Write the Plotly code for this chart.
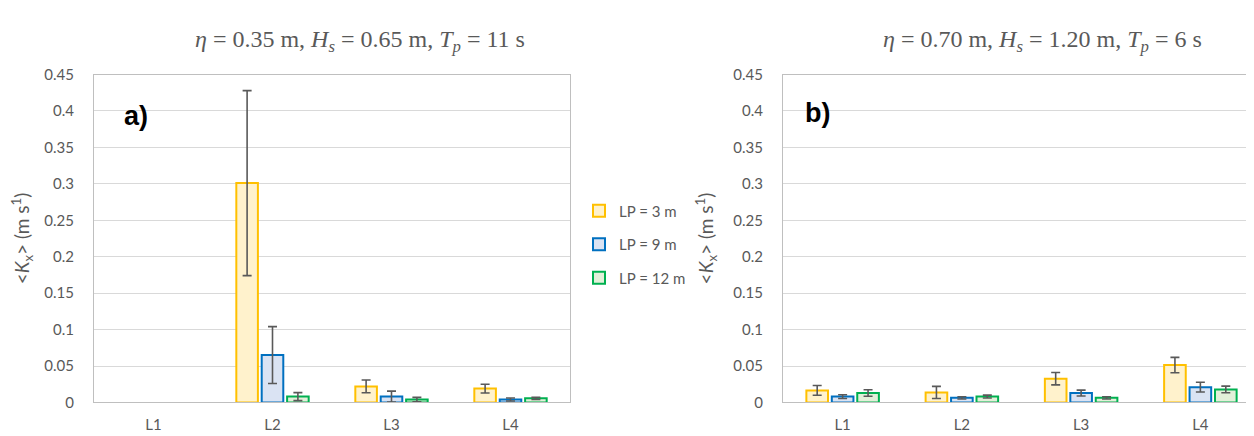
import plotly.graph_objects as go

categories = ["L1", "L2", "L3", "L4"]
series_names = ["LP = 3 m", "LP = 9 m", "LP = 12 m"]

# Panel a) eta = 0.35 m, Hs = 0.65 m, Tp = 11 s
a_lp3 = [None, 0.301, 0.022, 0.019]
a_lp3_err = [None, 0.127, 0.0088, 0.006]
a_lp9 = [None, 0.065, 0.008, 0.004]
a_lp9_err = [None, 0.039, 0.0075, 0.002]
a_lp12 = [None, 0.008, 0.004, 0.0057]
a_lp12_err = [None, 0.0055, 0.003, 0.0015]

# Panel b) eta = 0.70 m, Hs = 1.20 m, Tp = 6 s
b_lp3 = [0.0165, 0.0138, 0.0326, 0.0513]
b_lp3_err = [0.0067, 0.0083, 0.0085, 0.0105]
b_lp9 = [0.008, 0.0063, 0.0129, 0.021]
b_lp9_err = [0.0025, 0.0015, 0.004, 0.0067]
b_lp12 = [0.0129, 0.008, 0.0063, 0.0179]
b_lp12_err = [0.0045, 0.002, 0.0015, 0.0045]

y_ticks = [0, 0.05, 0.1, 0.15, 0.2, 0.25, 0.3, 0.35, 0.4, 0.45]
y_ticktext = ["0", "0.05", "0.1", "0.15", "0.2", "0.25", "0.3", "0.35", "0.4", "0.45"]

fills = ["#FFF2CC", "#DAE3F3", "#E2F0D9"]
edges = ["#FFC000", "#0070C0", "#00B050"]
GRAY = "#595959"
FONT = "Lato"

W, H = 1254, 436
fig = go.Figure()

panels = [
    ("x", "y", [a_lp3, a_lp9, a_lp12], [a_lp3_err, a_lp9_err, a_lp12_err], True),
    ("x2", "y2", [b_lp3, b_lp9, b_lp12], [b_lp3_err, b_lp9_err, b_lp12_err], False),
]
for xa, ya, vals, errs, show in panels:
    for i in range(3):
        fig.add_trace(go.Bar(
            x=categories, y=vals[i], name=series_names[i],
            xaxis=xa, yaxis=ya, showlegend=show, legendgroup=series_names[i],
            marker=dict(color=fills[i], line=dict(color=edges[i], width=2)),
            error_y=dict(type="data", array=errs[i], color=GRAY, thickness=1.6, width=4.5),
        ))

def px_x(p):
    return p / W

def px_y(p):
    return 1 - p / H

ydom = [px_y(401), px_y(59)]
axis_common = dict(showline=True, linecolor="#BFBFBF", linewidth=1, mirror=True,
                   zeroline=False)
yaxis_common = dict(range=[0, 0.45], tickvals=y_ticks, ticktext=y_ticktext,
                    showgrid=True, gridcolor="#D9D9D9", gridwidth=1,
                    tickfont=dict(family=FONT, size=15, color=GRAY),
                    ticks="", ticklabelstandoff=16, domain=ydom, **axis_common)
xaxis_common = dict(showgrid=False, tickfont=dict(family=FONT, size=15, color=GRAY),
                    ticks="", ticklabelstandoff=9, **axis_common)

ytitle = "&lt;<i>K</i><sub>x</sub>&gt; (m s<sup>1</sup>)"
ytitle_font = dict(family=FONT, size=19, color=GRAY)

fig.update_layout(
    width=W, height=H,
    margin=dict(l=0, r=0, t=0, b=0),
    paper_bgcolor="white", plot_bgcolor="white",
    barmode="group", bargap=0.36, bargroupgap=0.15,
    xaxis=dict(domain=[px_x(86), px_x(562)], anchor="y", **xaxis_common),
    xaxis2=dict(domain=[px_x(775), px_x(1252)], anchor="y2", **xaxis_common),
    yaxis=dict(anchor="x", title=dict(text=ytitle, font=ytitle_font, standoff=14), **yaxis_common),
    yaxis2=dict(anchor="x2", title=dict(text=ytitle, font=ytitle_font, standoff=14), **yaxis_common),
    legend=dict(x=px_x(571), y=px_y(184), xanchor="left", yanchor="top",
                font=dict(family=FONT, size=15, color=GRAY),
                traceorder="grouped", tracegroupgap=11, bgcolor="rgba(0,0,0,0)"),
    font=dict(family=FONT, color=GRAY),
)

title_font = dict(family="Liberation Serif", size=24, color=GRAY)
fig.add_annotation(text="<i>η</i> = 0.35 m, <i>H<sub>s</sub></i> = 0.65 m, <i>T<sub>p</sub></i> = 11 s",
                   x=px_x(352), y=px_y(24), xref="paper", yref="paper",
                   showarrow=False, font=title_font, xanchor="center", yanchor="middle")
fig.add_annotation(text="<i>η</i> = 0.70 m, <i>H<sub>s</sub></i> = 1.20 m, <i>T<sub>p</sub></i> = 6 s",
                   x=px_x(1034), y=px_y(24), xref="paper", yref="paper",
                   showarrow=False, font=title_font, xanchor="center", yanchor="middle")

label_font = dict(family="Liberation Sans", size=27, color="black")
fig.add_annotation(text="<b>a)</b>", x=px_x(114), y=px_y(102), xref="paper", yref="paper",
                   showarrow=False, font=label_font, xanchor="left", yanchor="middle")
fig.add_annotation(text="<b>b)</b>", x=px_x(795), y=px_y(99), xref="paper", yref="paper",
                   showarrow=False, font=label_font, xanchor="left", yanchor="middle")

fig.write_html("out.html")
